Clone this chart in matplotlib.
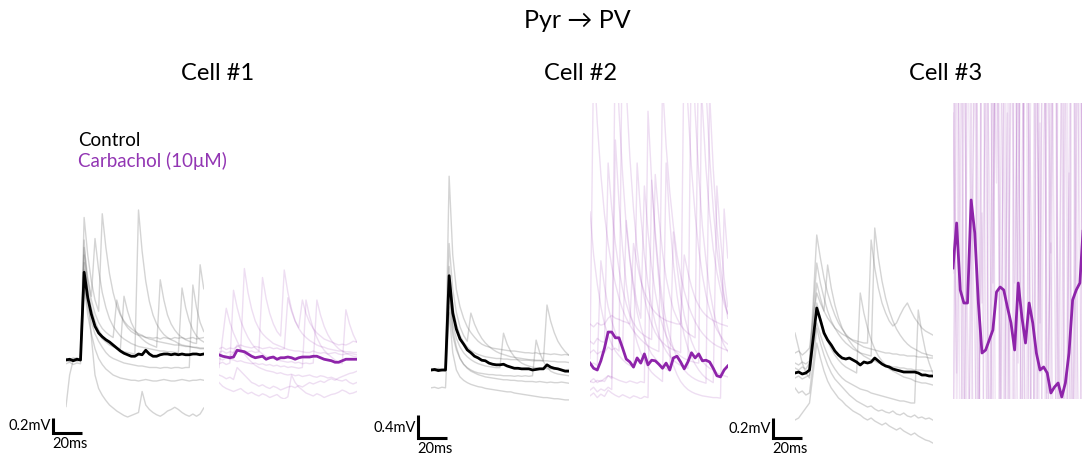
import numpy as np
import matplotlib
matplotlib.use('Agg')
import matplotlib.pyplot as plt

plt.rcParams['font.family'] = ['Lato', 'DejaVu Sans']

# figure size in pixels, 100 dpi
W, H = 1082, 459
PX_PER_MS = 29 / 20.0

# sampling grid of every trace (ms)
time_ms = np.arange(0, 95.1, 2.5)

# ---------------- Cell #1 (mV) ----------------
c1_ctrl_mean = [0.00, 0.01, -0.01, 0.01, 0.00, 1.17, 0.83, 0.61, 0.45, 0.36, 0.31, 0.27, 0.24, 0.20, 0.16, 0.12,
                0.09, 0.07, 0.05, 0.05, 0.08, 0.07, 0.13, 0.08, 0.05, 0.05, 0.07, 0.08, 0.08, 0.07, 0.08, 0.07,
                0.08, 0.07, 0.07, 0.08, 0.08, 0.07, 0.08]
c1_ctrl_trials = [
    [0.02, 0.0, 0.03, 0.01, 0.0, 1.9, 1.4, 1.05, 0.8, 0.65, 1.95, 1.5, 1.15, 0.9, 0.72, 0.6, 0.52, 0.46, 0.42, 0.38,
     0.35, 0.33, 0.3, 0.28, 0.27, 0.25, 0.24, 0.23, 0.22, 0.21, 0.2, 0.2, 0.19, 0.18, 0.18, 0.17, 0.17, 0.16, 0.16],
    [0.0, -0.02, 0.01, 0.0, 0.02, 1.3, 0.95, 0.7, 0.52, 0.4, 0.32, 0.26, 0.22, 0.18, 0.15, 0.13, 0.11, 0.1, 0.09, 0.08,
     2.0, 1.45, 1.05, 0.78, 0.6, 0.48, 0.4, 0.34, 0.3, 0.27, 0.25, 0.22, 0.2, 0.19, 0.18, 0.17, 0.16, 0.15, 0.15],
    [0.01, 0.0, 0.0, 0.02, 0.0, 1.5, 1.1, 0.85, 1.62, 1.2, 0.9, 0.7, 0.55, 0.45, 0.38, 0.32, 0.28, 0.25, 0.22, 0.2,
     0.18, 0.17, 0.16, 0.15, 0.14, 0.13, 0.12, 0.12, 0.11, 0.11, 0.1, 0.1, 0.96, 0.7, 0.52, 0.4, 0.32, 0.27, 0.24],
    [-0.62, -0.2, 0.0, -0.02, 0.0, 1.6, 0.9, 0.3, -0.2, -0.38, -0.47, -0.54, -0.6, -0.64, -0.68, -0.71, -0.74, -0.76,
     -0.74, -0.72, -0.7, -0.42, -0.6, -0.66, -0.7, -0.73, -0.75, -0.72, -0.68, -0.66, -0.63, -0.66, -0.7, -0.73,
     -0.75, -0.72, -0.75, -0.72, -0.64],
    [0.0, 0.01, -0.01, 0.0, 0.0, 1.0, 0.6, 0.35, 0.15, 0.02, -0.06, -0.12, -0.16, -0.2, -0.22, -0.24, -0.25, -0.26,
     -0.27, -0.27, -0.28, -0.27, -0.26, -0.27, -0.28, -0.28, -0.27, -0.26, -0.27, -0.28, -0.28, -0.27, -0.26, -0.27,
     -0.28, -0.27, -0.27, -0.26, -0.27],
    [-0.05, -0.03, -0.06, -0.04, -0.05, 1.2, 0.85, 0.6, 0.45, 0.35, 0.28, 0.24, 0.2, 0.18, 0.16, 0.15, 0.85, 0.65, 0.5,
     0.4, 0.33, 0.28, 0.24, 0.21, 0.19, 0.17, 1.07, 0.8, 0.6, 0.48, 0.4, 0.34, 0.3, 0.27, 0.25, 0.23, 0.22, 1.27, 0.95],
    [0.0, -0.02, 0.0, 0.01, -0.01, 1.0, 0.7, 0.5, 0.35, 0.25, 0.17, 0.1, 0.05, 0.02, 0.0, -0.02, -0.04, -0.05, -0.06,
     -0.07, -0.08, -0.08, -0.09, -0.1, -0.1, -0.1, -0.11, -0.1, -0.1, -0.11, -0.1, -0.1, -0.11, -0.1, -0.1, 1.0, 0.7,
     0.5, 0.38],
    [0.02, 0.0, 0.01, 0.03, 0.0, 1.4, 1.05, 0.8, 0.62, 0.5, 0.42, 0.37, 0.33, 0.3, 0.8, 0.62, 0.5, 0.43, 0.38, 0.35,
     0.33, 0.32, 0.3, 0.3, 0.29, 0.3, 0.28, 0.3, 0.29, 0.28, 0.3, 0.29, 0.3, 0.28, 0.29, 0.3, 0.28, 0.29, 0.3],
]
c1_carb_mean = [0.07, 0.05, 0.04, 0.03, 0.04, 0.13, 0.12, 0.11, 0.08, 0.05, 0.03, 0.04, 0.05, 0.01, 0.03, 0.04,
                0.01, 0.03, 0.03, 0.04, 0.03, 0.01, 0.03, 0.04, 0.04, 0.04, 0.05, 0.05, 0.03, 0.01, 0.00, -0.01,
                -0.03, -0.03, -0.01, 0.01, 0.01, 0.01, 0.01]
c1_carb_trials = [
    [0.05, 0.06, 0.04, 0.05, 0.1, 0.2, 0.15, 1.22, 0.9, 0.68, 0.52, 0.42, 0.35, 0.3, 0.26, 0.22, 0.2, 0.18, 0.16, 0.14,
     0.13, 0.12, 0.12, 0.11, 0.1, 0.1, 0.12, 0.1, 0.09, 0.1, 0.08, 0.09, 0.1, 0.08, 0.07, 0.08, 0.09, 0.08, 0.07],
    [-0.05, -0.03, -0.06, -0.04, 0.93, 0.7, 0.52, 0.4, 0.3, 0.22, 0.16, 0.12, 0.08, 0.05, 0.03, 0.02, 0.0, -0.01,
     -0.02, -0.03, -0.02, -0.04, -0.03, -0.05, -0.04, -0.05, -0.04, 0.8, 0.6, 0.45, 0.34, 0.26, 0.2, 0.15, 0.12, 0.09,
     0.07, 0.05, 0.04],
    [0.1, 0.12, 0.09, 0.11, 0.1, 0.14, 0.13, 0.12, 0.11, 0.12, 0.1, 0.11, 1.1, 0.82, 0.62, 0.48, 0.38, 0.32, 1.2, 0.9,
     0.68, 0.52, 0.42, 0.35, 0.3, 0.26, 0.23, 0.2, 0.18, 0.17, 0.15, 0.14, 0.13, 0.12, 0.12, 0.11, 0.11, 0.1, 0.1],
    [-0.3, -0.35, -0.38, -0.4, -0.42, -0.4, -0.38, -0.42, -0.45, -0.43, -0.46, -0.48, -0.45, -0.47, -0.5, -0.48, -0.46,
     -0.5, -0.52, -0.49, -0.2, -0.3, -0.36, -0.4, -0.44, -0.46, -0.48, -0.45, -0.47, -0.5, -0.48, -0.46, -0.45, -0.43,
     -0.4, -0.42, -0.45, -0.44, -0.42],
    [0.02, 0.0, 0.03, 0.01, 0.0, -0.02, -0.01, -0.03, -0.04, -0.05, -0.04, -0.06, -0.05, -0.07, -0.06, -0.08, -0.07,
     -0.09, -0.08, -0.1, -0.09, -0.1, -0.11, -0.1, 0.8, 0.58, 0.42, 0.3, 0.2, 0.13, 0.08, 0.04, 0.0, -0.03, -0.05, 0.67,
     0.48, 0.34, 0.24],
    [-0.1, 0.3, 0.69, 0.5, 0.36, 0.25, 0.15, 0.08, 0.02, -0.03, -0.07, -0.1, -0.12, -0.14, -0.15, -0.16, -0.18, -0.17,
     -0.19, -0.2, -0.19, -0.21, -0.2, -0.22, -0.21, -0.2, -0.22, -0.23, -0.21, -0.22, -0.24, -0.23, -0.25, -0.27,
     -0.28, -0.26, -0.3, -0.32, -0.3],
    [0.15, 0.17, 0.14, 0.16, 0.15, 0.18, 0.2, 0.18, 0.17, 0.16, 0.18, 0.17, 0.15, 0.16, 0.17, 0.15, 0.16, 0.14, 0.15,
     0.83, 0.65, 0.52, 0.43, 0.8, 0.62, 0.5, 0.42, 0.36, 0.32, 0.28, 0.26, 0.24, 0.22, 0.2, 0.21, 0.2, 0.22, 0.25, 0.24],
    [-0.2, -0.22, -0.25, -0.23, -0.26, -0.1, -0.15, -0.2, -0.25, -0.3, -0.32, -0.35, -0.33, -0.36, -0.38, -0.35, -0.37,
     -0.4, -0.38, -0.36, -0.35, -0.37, -0.34, -0.36, -0.33, -0.3, -0.32, -0.3, -0.28, -0.3, -0.27, -0.25, -0.27, -0.24,
     -0.22, -0.2, -0.18, -0.17, -0.15],
]

# ---------------- Cell #2 (mV) ----------------
c2_ctrl_mean = [0.00, 0.01, -0.01, 0.00, 0.00, 1.64, 0.99, 0.71, 0.54, 0.45, 0.35, 0.30, 0.24, 0.21, 0.17, 0.16,
                0.12, 0.10, 0.09, 0.09, 0.10, 0.07, 0.05, 0.03, 0.03, 0.02, 0.02, 0.02, 0.00, 0.01, 0.02, 0.02,
                0.09, 0.05, 0.03, 0.02, 0.00, -0.02, -0.02]
c2_ctrl_trials = [
    [0.02, 0.0, 0.03, 0.01, 0.02, 3.37, 2.0, 1.4, 1.1, 0.9, 0.75, 0.65, 0.57, 0.5, 0.45, 0.42, 0.4, 0.38, 0.37, 0.36,
     0.35, 0.34, 0.33, 0.33, 0.32, 0.31, 0.3, 0.3, 0.29, 0.3, 0.28, 0.29, 0.28, 0.27, 0.28, 0.27, 0.26, 0.27, 0.26],
    [0.0, -0.02, 0.01, 0.0, -0.01, 2.2, 1.4, 1.0, 0.75, 0.6, 0.5, 0.99, 0.8, 0.66, 0.55, 0.47, 0.41, 0.36, 0.32, 0.29,
     0.27, 0.25, 0.23, 0.22, 0.21, 0.2, 0.19, 0.18, 0.18, 0.17, 0.17, 0.16, 0.16, 0.15, 0.15, 0.14, 0.14, 0.14, 0.13],
    [0.01, 0.0, 0.02, -0.01, 0.0, 1.8, 1.1, 0.8, 0.6, 0.48, 0.4, 0.34, 0.3, 0.27, 0.25, 0.23, 0.22, 0.21, 0.2, 0.2,
     0.19, 0.19, 0.18, 0.18, 0.18, 0.17, 0.17, 0.17, 0.16, 0.16, 0.16, 0.16, 1.13, 0.85, 0.65, 0.5, 0.4, 0.32, 0.26],
    [0.0, 0.01, -0.01, 0.0, 0.01, 1.3, 0.8, 0.55, 0.4, 0.3, 0.23, 0.18, 0.14, 0.11, 0.09, 0.07, 0.06, 0.05, 0.04, 0.04,
     0.64, 0.45, 0.32, 0.23, 0.17, 0.12, 0.09, 0.07, 0.05, 0.04, 0.03, 0.03, 0.02, 0.02, 0.01, 0.02, 0.01, 0.0, 0.01],
    [-0.02, 0.0, -0.01, 0.0, -0.02, 1.1, 0.6, 0.35, 0.2, 0.1, 0.04, 0.0, -0.03, -0.05, -0.06, -0.07, -0.08, -0.08,
     -0.09, -0.09, -0.1, -0.1, -0.1, -0.11, -0.1, -0.11, -0.1, -0.11, -0.1, 0.52, 0.3, 0.15, 0.05, -0.02, -0.05, -0.07,
     -0.08, -0.09, -0.1],
    [-0.31, -0.3, -0.32, -0.3, -0.31, 1.0, 0.3, 0.0, -0.12, -0.18, -0.22, -0.25, -0.27, -0.29, -0.3, -0.32, -0.33,
     -0.34, -0.35, -0.36, -0.37, -0.38, -0.38, -0.4, -0.41, -0.42, -0.43, -0.44, -0.45, -0.46, -0.47, -0.48, -0.48,
     -0.49, -0.5, -0.5, -0.51, -0.52, -0.52],
    [0.0, 0.02, 0.0, -0.01, 0.0, 1.5, 0.7, 0.4, 0.2, 0.1, 0.03, -0.02, -0.05, -0.08, -0.1, -0.12, -0.13, -0.14, -0.15,
     -0.16, -0.17, -0.17, -0.18, -0.18, -0.19, -0.19, -0.2, -0.2, -0.2, -0.21, -0.2, -0.21, -0.22, -0.21, -0.22, -0.22,
     -0.21, -0.22, -0.23],
]
c2_carb_mean = [0.12, 0.03, 0.00, 0.16, 0.38, 0.66, 0.66, 0.56, 0.56, 0.38, 0.19, 0.14, 0.05, 0.21, 0.12, 0.28,
                0.09, 0.17, 0.16, 0.10, 0.03, 0.12, 0.00, 0.21, 0.24, 0.14, 0.02, 0.14, 0.30, 0.21, 0.28, 0.16,
                0.17, 0.14, 0.03, -0.10, -0.12, 0.00, 0.07]
c2_carb_trials = [
    [-0.2, -0.15, -0.22, -0.18, -0.2, -0.1, -0.15, 6.0, 4.5, 3.4, 2.5, 1.9, 1.4, 1.0, 0.75, 0.55, 0.4, 0.28, 0.2, 0.12,
     0.06, 0.02, -0.02, 2.4, 1.8, 1.3, 0.95, 0.7, 0.5, 0.35, 0.25, 0.15, 0.08, 0.03, 0.0, -0.05, -0.08, -0.1, -0.12],
    [0.3, 0.35, 0.28, 0.32, 0.3, 0.4, 0.35, 0.38, 0.33, 6.5, 4.9, 3.7, 2.8, 2.1, 1.6, 1.25, 1.0, 0.8, 0.65, 0.55, 0.48,
     0.42, 0.38, 0.35, 0.33, 0.3, 6.0, 4.6, 3.5, 2.7, 2.1, 1.65, 1.3, 1.05, 0.85, 0.7, 0.6, 0.5, 0.45],
    [2.75, 2.0, 1.5, 1.1, 0.8, 0.6, 0.45, 0.33, 0.25, 0.18, 0.12, 0.08, 0.05, 3.6, 2.7, 2.0, 1.5, 1.1, 0.82, 0.6, 0.45,
     0.33, 0.24, 0.17, 0.12, 0.08, 0.05, 0.03, 6.0, 4.5, 3.4, 2.5, 1.9, 1.4, 1.05, 0.78, 0.58, 0.43, 0.32],
    [0.5, 0.45, 0.55, 0.5, 0.48, 3.6, 2.8, 2.2, 1.75, 1.4, 1.15, 0.95, 0.82, 0.72, 0.65, 0.6, 0.56, 0.53, 3.4, 2.65,
     2.05, 1.6, 1.3, 1.05, 0.9, 0.78, 0.7, 0.64, 0.6, 0.56, 6.0, 4.6, 3.5, 2.7, 2.1, 1.7, 1.4, 1.15, 0.98],
    [-0.35, -0.3, -0.38, -0.33, -0.36, -0.3, -0.34, 4.0, 2.9, 2.1, 1.5, 1.05, 0.72, 0.48, 0.3, 0.16, 0.05, -0.04, -0.1,
     -0.15, -0.2, 3.6, 2.6, 1.85, 1.3, 0.9, 0.6, 0.38, 0.22, 0.1, 0.0, -0.08, -0.14, -0.18, -0.22, 3.2, 2.3, 1.6, 1.1],
    [0.1, 0.12, 0.08, 1.9, 1.45, 1.1, 0.85, 0.65, 0.5, 0.4, 2.6, 1.95, 1.5, 1.15, 0.9, 3.2, 2.4, 1.8, 1.35, 1.0, 0.78,
     0.6, 0.47, 0.37, 0.3, 0.24, 0.2, 0.17, 0.15, 0.13, 0.12, 6.5, 4.9, 3.7, 2.8, 2.1, 1.6, 1.25, 0.98],
    [-0.45, -0.4, -0.48, -0.42, -0.46, -0.35, -0.4, -0.44, -0.47, -0.43, -0.46, -0.49, -0.45, -0.47, -0.5, -0.46,
     -0.48, 3.3, 2.3, 1.55, 1.0, 0.6, 0.3, 0.08, -0.08, -0.2, -0.28, -0.34, -0.38, -0.41, -0.43, -0.45, -0.46, -0.47,
     -0.48, -0.48, -0.49, 2.8, 1.95],
    [0.8, 0.75, 0.82, 0.78, 0.8, 0.9, 0.95, 0.9, 0.88, 0.85, 0.83, 0.8, 2.2, 1.85, 1.55, 1.35, 1.2, 1.08, 1.0, 0.94,
     0.9, 0.86, 0.84, 0.82, 0.8, 0.8, 2.0, 1.7, 1.45, 1.25, 1.12, 1.02, 0.95, 0.9, 0.86, 0.83, 0.8, 0.78, 0.76],
    [-0.2, -0.22, -0.18, -0.2, -0.15, -0.1, -0.12, -0.15, -0.18, -0.2, -0.22, -0.19, -0.21, -0.23, -0.2, -0.22, 4.5,
     3.3, 2.4, 1.7, 1.2, 0.85, 0.58, 0.38, 0.22, 0.1, 0.0, -0.07, -0.12, -0.16, -0.19, -0.21, -0.23, 4.8, 3.5, 2.5,
     1.8, 1.3, 0.9],
    [0.2, 5.5, 4.3, 3.4, 2.7, 2.2, 1.8, 1.5, 1.25, 1.05, 0.9, 0.78, 0.68, 0.6, 0.53, 0.47, 0.42, 0.38, 0.35, 0.32, 5.0,
     3.9, 3.1, 2.5, 2.0, 1.65, 1.37, 1.15, 0.98, 0.84, 0.73, 0.64, 0.57, 0.51, 0.46, 0.42, 0.39, 0.36, 0.34],
]

# ---------------- Cell #3 (mV) ----------------
c3_ctrl_mean = [0.00, 0.01, -0.01, 0.00, 0.03, 0.34, 0.65, 0.53, 0.40, 0.33, 0.28, 0.22, 0.18, 0.15, 0.14, 0.15,
                0.13, 0.11, 0.08, 0.11, 0.10, 0.11, 0.15, 0.12, 0.09, 0.07, 0.06, 0.04, 0.03, 0.02, 0.01, 0.01,
                0.01, 0.01, 0.00, -0.02, -0.02, -0.03, -0.03]
c3_ctrl_trials = [
    [0.05, 0.03, 0.06, 0.04, 0.1, 0.7, 1.38, 1.15, 0.95, 0.8, 0.68, 0.58, 0.5, 0.44, 0.39, 0.35, 0.32, 0.3, 0.28, 0.26,
     0.25, 0.24, 0.23, 0.22, 0.21, 0.2, 0.2, 0.19, 0.19, 0.18, 0.18, 0.17, 0.17, 0.17, 0.16, 0.16, 0.16, 0.15, 0.15],
    [0.0, 0.02, -0.01, 0.01, 0.03, 0.5, 0.9, 0.75, 0.62, 1.08, 0.85, 0.68, 0.55, 0.45, 0.38, 0.32, 0.27, 0.23, 0.2,
     0.17, 0.15, 0.13, 0.12, 0.1, 0.09, 0.08, 0.07, 0.06, 0.06, 0.05, 0.05, 0.04, 0.04, 0.03, 0.03, 0.03, 0.02, 0.02,
     0.02],
    [0.1, 0.08, 0.11, 0.09, 0.12, 0.6, 1.1, 0.9, 0.75, 0.62, 0.52, 0.45, 0.39, 0.34, 0.3, 0.27, 0.24, 0.22, 0.2, 0.19,
     0.18, 0.17, 1.45, 1.15, 0.92, 0.75, 0.62, 0.52, 0.44, 0.38, 0.33, 0.29, 0.26, 0.24, 0.22, 0.2, 0.19, 0.18, 0.17],
    [0.2, 0.22, 0.18, 0.21, 0.25, 0.55, 0.8, 0.7, 0.62, 0.55, 0.5, 0.45, 0.42, 0.39, 0.37, 0.35, 0.33, 0.32, 0.31, 0.3,
     0.3, 1.33, 1.05, 0.85, 0.7, 0.6, 0.52, 0.47, 0.5, 0.58, 0.65, 0.7, 0.62, 0.55, 0.5, 0.45, 0.42, 0.4, 0.38],
    [-0.47, -0.45, -0.4, -0.35, -0.3, 0.0, 0.3, 0.15, 0.02, -0.08, -0.15, -0.2, -0.25, -0.28, -0.32, -0.35, -0.38,
     -0.4, -0.42, -0.45, -0.47, -0.45, -0.48, -0.5, -0.52, -0.5, -0.53, -0.55, -0.57, -0.55, -0.58, -0.6, -0.62, -0.6,
     -0.63, -0.65, -0.67, -0.68, -0.7],
    [0.4, 0.25, 0.1, 0.0, -0.05, 0.35, 0.7, 0.55, 0.42, 0.32, 0.24, 0.18, 0.13, 0.09, 0.06, 0.04, 0.02, 0.0, 0.8, 0.6,
     0.45, 0.33, 0.24, 0.17, 0.12, 0.08, 0.04, 0.02, 0.0, -0.02, -0.04, -0.05, -0.06, -0.08, -0.09, -0.1, -0.1, -0.11,
     -0.12],
    [-0.05, -0.03, -0.06, -0.04, -0.02, 0.25, 0.5, 0.38, 0.27, 0.18, 0.1, 0.04, -0.01, -0.05, -0.08, -0.1, -0.12,
     -0.14, -0.16, -0.17, -0.18, -0.2, -0.21, -0.22, -0.23, -0.24, -0.25, -0.26, -0.27, -0.28, -0.28, -0.29, -0.3,
     -0.3, 0.63, 0.4, 0.22, 0.1, 0.0],
    [-0.15, -0.2, -0.18, -0.22, -0.2, 0.1, 0.45, 0.3, 0.18, 0.08, 0.0, -0.06, -0.1, -0.14, -0.18, -0.22, -0.25, -0.28,
     -0.3, -0.32, -0.34, -0.33, -0.36, -0.38, -0.37, -0.39, -0.4, -0.38, -0.41, -0.42, -0.4, -0.43, -0.44, -0.42,
     -0.45, -0.44, -0.46, -0.45, -0.47],
]
c3_carb_mean = [1.05, 1.50, 0.83, 0.70, 0.70, 1.73, 1.40, 0.70, 0.20, 0.23, 0.33, 0.43, 0.81, 0.86, 0.83, 0.66,
                0.50, 0.23, 0.90, 0.56, 0.30, 0.70, 0.50, 0.20, 0.03, 0.06, 0.00, -0.20, -0.14, -0.10, -0.24, -0.10,
                0.20, 0.73, 0.83, 0.90, 1.50, 1.20, 1.00]
c3_carb_trials = [
    [1.0, 6.0, -2.0, 3.5, 0.5, -1.5, 5.0, 1.5, -3.0, 4.0, 2.0, -1.0, 6.5, 0.8, -2.5, 3.0, 5.5, -1.2, 1.8, 4.5, -2.0,
     0.6, 6.0, -0.8, 2.5, -3.0, 4.2, 1.2, 5.8, -1.8, 0.3, 3.8, -2.2, 6.2, 1.0, -1.4, 4.8, 2.2, -2.6],
    [-1.5, 3.0, 7.0, 0.2, -2.8, 2.4, 5.2, -0.6, 1.6, -3.2, 4.6, 0.9, 6.8, -1.1, 2.9, 5.6, -2.4, 0.5, 3.6, -1.9, 6.1,
     1.4, -2.7, 4.3, 0.0, 5.3, -1.6, 2.1, 7.2, -0.4, 3.3, -2.9, 1.7, 5.0, -1.0, 3.9, 0.7, 6.4, -2.1],
    [4.0, -0.5, 2.2, 6.0, -2.0, 1.0, 3.2, -1.4, 5.4, 0.4, -2.6, 3.7, 1.9, 6.6, -0.9, 2.6, -3.1, 4.9, 0.1, 5.9, -1.7,
     2.8, 0.6, -2.3, 4.4, 6.9, -0.2, 1.3, -2.0, 3.4, 5.7, -1.3, 2.0, -0.7, 4.7, 1.1, -3.0, 3.1, 5.1],
    [2.6, 0.0, 5.5, -1.8, 3.4, 1.2, -2.2, 6.3, 0.7, 2.9, -1.1, 4.1, -2.9, 1.5, 5.0, -0.3, 3.0, 6.7, -2.4, 1.9, 4.5,
     -1.0, 0.8, 5.9, -2.7, 2.3, 3.9, -0.6, 6.1, 0.4, -2.0, 2.7, 4.8, -1.5, 1.6, 6.5, -0.8, 2.4, 0.9],
    [-0.8, 4.4, 1.7, -2.5, 5.8, 2.1, 0.3, -1.6, 3.8, 6.2, -2.2, 1.4, 4.0, -0.4, 2.7, -3.0, 5.1, 0.9, 3.5, -1.3, 6.0,
     1.8, -2.1, 3.1, 0.5, 5.6, -1.9, 4.2, 1.0, -2.8, 3.6, 6.4, 0.2, -1.2, 2.5, 5.3, -2.4, 1.3, 4.1],
]

cell_titles = ['Cell #1', 'Cell #2', 'Cell #3']
scale_mv = [0.2, 0.4, 0.2]
scale_ms = 20

# layout in pixels: control left, carbachol left, baseline y, mV per px, scale bar corner, title x
LAYOUT = [
    dict(ctrl_x=66, carb_x=219, base=360, mvpp=0.2 / 15, bar=(53, 433), title_x=218),
    dict(ctrl_x=431, carb_x=590, base=370, mvpp=0.4 / 23, bar=(418, 438), title_x=580),
    dict(ctrl_x=795, carb_x=953, base=373, mvpp=0.2 / 20, bar=(773, 438), title_x=946),
]

CARB_COLOR = '#8e24aa'
CARB_TEXT = '#9235b3'


def add_panel(fig, x0, y_top, y_bot, base, mvpp):
    width = 95 * PX_PER_MS
    ax = fig.add_axes([x0 / W, 1 - y_bot / H, width / W, (y_bot - y_top) / H])
    ax.set_xlim(0, 95)
    ax.set_ylim(-(y_bot - base) * mvpp, (base - y_top) * mvpp)
    ax.axis('off')
    return ax


def plot_condition(ax, trials, mean, trial_color, mean_color, trial_alpha):
    for tr in trials:
        ax.plot(time_ms, tr, color=trial_color, alpha=trial_alpha, lw=1.0)
    ax.plot(time_ms, mean, color=mean_color, lw=2.0)


def fig_text(x, y, s, **kw):
    return fig.text(x / W, 1 - y / H, s, **kw)


fig = plt.figure(figsize=(W / 100.0, H / 100.0), dpi=100)

data = [
    (c1_ctrl_trials, c1_ctrl_mean, c1_carb_trials, c1_carb_mean),
    (c2_ctrl_trials, c2_ctrl_mean, c2_carb_trials, c2_carb_mean),
    (c3_ctrl_trials, c3_ctrl_mean, c3_carb_trials, c3_carb_mean),
]

for i, (ctrl_tr, ctrl_m, carb_tr, carb_m) in enumerate(data):
    lay = LAYOUT[i]
    ax_c = add_panel(fig, lay['ctrl_x'], 103, 455, lay['base'], lay['mvpp'])
    plot_condition(ax_c, ctrl_tr, ctrl_m, '0.45', 'black', 0.3)
    ax_d = add_panel(fig, lay['carb_x'], 103, 399, lay['base'], lay['mvpp'])
    plot_condition(ax_d, carb_tr, carb_m, CARB_COLOR, CARB_COLOR, 0.12 if i == 2 else 0.15)

    # scale bar, drawn in data units of the control panel
    bx, by = lay['bar']
    t0 = (bx - lay['ctrl_x']) / PX_PER_MS
    v0 = (lay['base'] - by) * lay['mvpp']
    ax_c.plot([t0, t0, t0 + scale_ms], [v0 + scale_mv[i], v0, v0], color='black', lw=2.2,
              clip_on=False, solid_joinstyle='miter', solid_capstyle='butt')
    bar_h = scale_mv[i] / lay['mvpp']
    fig_text(bx - 2, by - bar_h * 0.45, '{}mV'.format(scale_mv[i]), fontsize=10.5, ha='right', va='center')
    fig_text(bx - 1, by + 4, '{}ms'.format(scale_ms), fontsize=10.5, ha='left', va='top')

    fig_text(lay['title_x'], 74, cell_titles[i], fontsize=17, ha='center', va='center')

fig_text(577, 20, 'Pyr \u2192 PV', fontsize=18, ha='center', va='center')
fig_text(78, 141, 'Control', fontsize=13.5, ha='left', va='center', color='black')
fig_text(78, 161, 'Carbachol (10\u03bcM)', fontsize=13.5, ha='left', va='center', color=CARB_TEXT)

fig.savefig('out.png', dpi=100)
plt.close(fig)
